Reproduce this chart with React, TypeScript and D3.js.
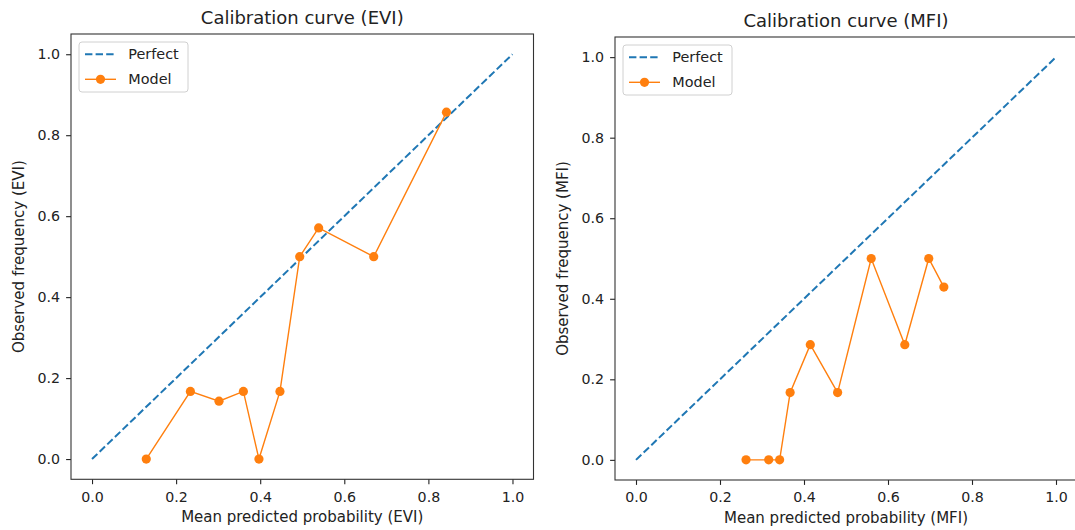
import React, { useRef, useEffect } from 'react';
import * as d3 from 'd3';

// values
const eviX = [0.129, 0.234, 0.302, 0.36, 0.397, 0.447, 0.494, 0.539, 0.67, 0.843];
const eviY = [0, 0.167, 0.143, 0.167, 0, 0.167, 0.5, 0.571, 0.5, 0.857];
const mfiX = [0.262, 0.316, 0.342, 0.367, 0.415, 0.48, 0.56, 0.64, 0.697, 0.733];
const mfiY = [0, 0, 0, 0.167, 0.286, 0.167, 0.5, 0.286, 0.5, 0.429];
const perfectLine = [0, 1];
const tickValues = [0, 0.2, 0.4, 0.6, 0.8, 1.0];
const legendLabels = ['Perfect', 'Model'];

const BLUE = '#1f77b4';
const ORANGE = '#ff7f0e';
const FONT = '"DejaVu Sans", sans-serif';
const INK = '#222';

type PanelProps = {
    left: number; top: number; width: number; height: number;
    xs: number[]; ys: number[]; name: string;
};

const Panel = (props: PanelProps) => {
    const gRef = useRef<SVGGElement>(null);

    useEffect(() => {
        const { left, top, width, height, xs, ys, name } = props;
        const g = d3.select(gRef.current);
        g.selectAll('*').remove();

        const x = d3.scaleLinear().domain([-0.05, 1.05]).range([left, left + width]);
        const y = d3.scaleLinear().domain([-0.05, 1.05]).range([top + height, top]);

        // perfect diagonal
        const diag = d3.line<number>().x(d => x(d)).y(d => y(d));
        g.append('path')
            .attr('d', diag(perfectLine))
            .attr('fill', 'none')
            .attr('stroke', BLUE)
            .attr('stroke-width', 2)
            .attr('stroke-dasharray', '7.4,3.2');

        // model curve
        const pts = xs.map((v, i) => [v, ys[i]] as [number, number]);
        const line = d3.line<[number, number]>().x(d => x(d[0])).y(d => y(d[1]));
        g.append('path')
            .attr('d', line(pts))
            .attr('fill', 'none')
            .attr('stroke', ORANGE)
            .attr('stroke-width', 1.4);
        g.selectAll('.dot').data(pts).enter().append('circle')
            .attr('class', 'dot')
            .attr('cx', d => x(d[0]))
            .attr('cy', d => y(d[1]))
            .attr('r', 4.6)
            .attr('fill', ORANGE);

        // axes
        const fmt = d3.format('.1f');
        const xAxis = g.append('g')
            .attr('transform', `translate(0,${top + height})`)
            .call(d3.axisBottom(x).tickValues(tickValues).tickFormat(fmt).tickSize(4.9).tickPadding(7.3));
        const yAxis = g.append('g')
            .attr('transform', `translate(${left},0)`)
            .call(d3.axisLeft(y).tickValues(tickValues).tickFormat(fmt).tickSize(4.9).tickPadding(6));
        [xAxis, yAxis].forEach(a => {
            a.select('.domain').remove();
            a.selectAll('line').attr('stroke', INK).attr('stroke-width', 1.1);
            a.selectAll('text')
                .attr('fill', INK)
                .style('font-family', FONT)
                .style('font-size', '14.2px');
        });

        // frame
        g.append('rect')
            .attr('x', left).attr('y', top)
            .attr('width', width).attr('height', height)
            .attr('fill', 'none')
            .attr('stroke', '#333')
            .attr('stroke-width', 1.1);

        // title and labels
        g.append('text')
            .attr('x', left + width / 2).attr('y', top - 10)
            .attr('text-anchor', 'middle')
            .attr('fill', INK)
            .style('font-family', FONT).style('font-size', '18px')
            .text(`Calibration curve (${name})`);
        g.append('text')
            .attr('x', left + width / 2).attr('y', top + height + 43)
            .attr('text-anchor', 'middle')
            .attr('fill', INK)
            .style('font-family', FONT).style('font-size', '15px')
            .text(`Mean predicted probability (${name})`);
        g.append('text')
            .attr('transform', `translate(${left - 47},${top + height / 2}) rotate(-90)`)
            .attr('text-anchor', 'middle')
            .attr('fill', INK)
            .style('font-family', FONT).style('font-size', '15px')
            .text(`Observed frequency (${name})`);

        // legend
        const lg = g.append('g').attr('transform', `translate(${left + 8},${top + 8})`);
        lg.append('rect')
            .attr('width', 109).attr('height', 50)
            .attr('rx', 3)
            .attr('fill', 'white').attr('fill-opacity', 0.8)
            .attr('stroke', '#d0d0d0').attr('stroke-width', 1);
        legendLabels.forEach((lab, i) => {
            const cy = 12.3 + i * 25;
            const handle = lg.append('line')
                .attr('x1', 6).attr('x2', 37)
                .attr('y1', cy).attr('y2', cy);
            if (i === 0) {
                handle.attr('stroke', BLUE).attr('stroke-width', 2).attr('stroke-dasharray', '7.4,3.2');
            } else {
                handle.attr('stroke', ORANGE).attr('stroke-width', 1.4);
                lg.append('circle').attr('cx', 21.5).attr('cy', cy).attr('r', 4.6).attr('fill', ORANGE);
            }
            lg.append('text')
                .attr('x', 49.3).attr('y', cy + 5)
                .attr('fill', INK)
                .style('font-family', FONT).style('font-size', '14.4px')
                .text(lab);
        });
    }, []);

    return <g ref={gRef} />;
};

const App = () => {
    return (
        <svg width={1075} height={530}
            style={{ position: 'absolute', left: 0, top: 0, display: 'block', background: 'white' }}>
            <Panel left={71} top={34} width={462.5} height={445.3} xs={eviX} ys={eviY} name="EVI" />
            <Panel left={615} top={37} width={462} height={443} xs={mfiX} ys={mfiY} name="MFI" />
        </svg>
    );
};

export default App;
